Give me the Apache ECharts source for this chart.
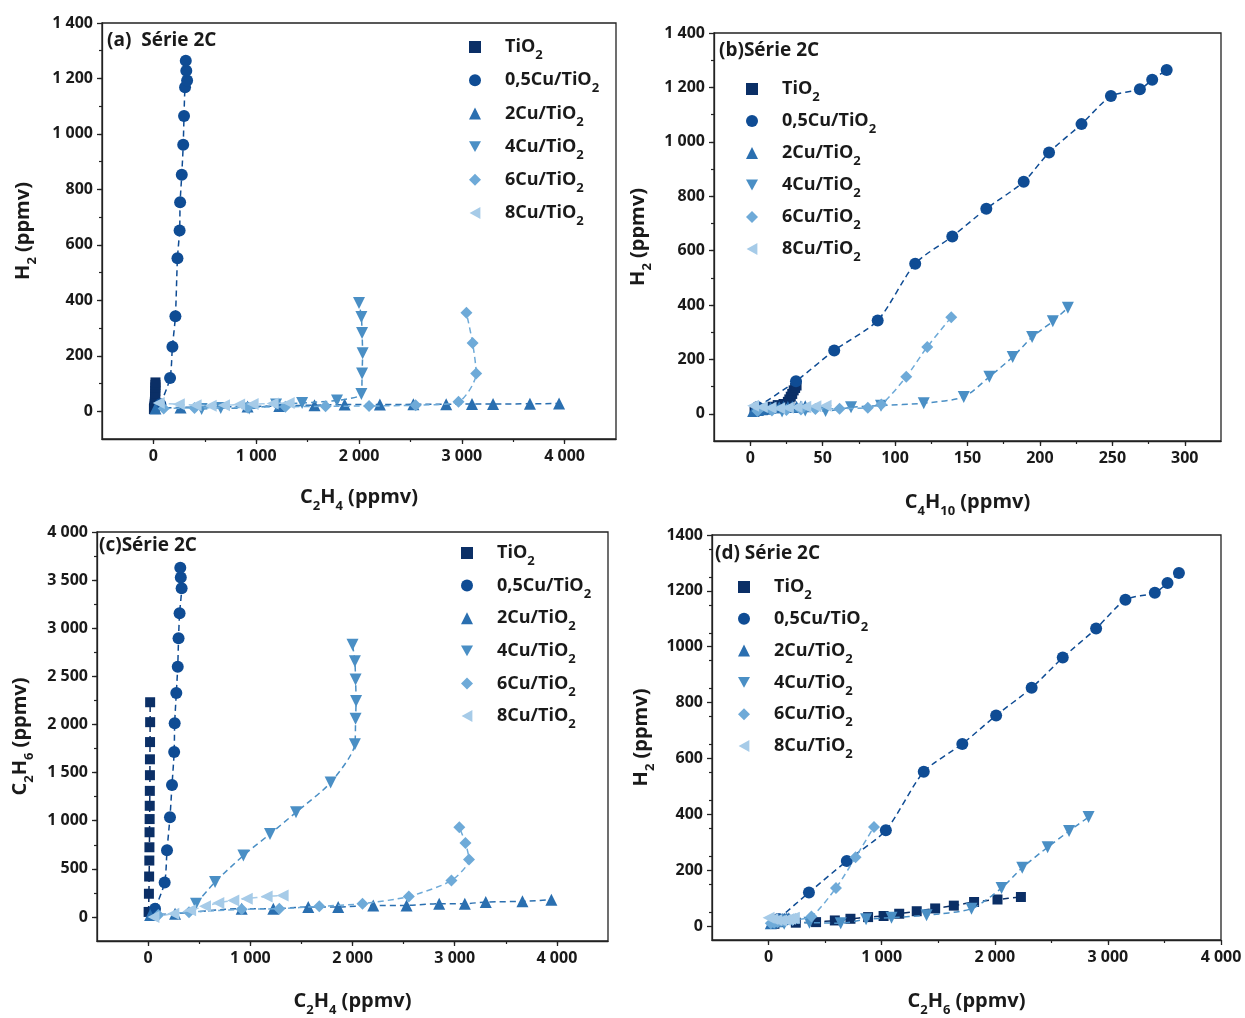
<!DOCTYPE html>
<html><head><meta charset="utf-8">
<script src="https://cdn.jsdelivr.net/npm/echarts@6/dist/echarts.min.js"></script>
<style>html,body{margin:0;padding:0;background:#fff}#c{width:1245px;height:1018px}</style>
</head><body><div id="c"></div>
<script>
const seriesNames = ['TiO2','0,5Cu/TiO2','2Cu/TiO2','4Cu/TiO2','6Cu/TiO2','8Cu/TiO2'];

// TiO2
const h2_TiO2    = [8, 12, 14, 20, 26, 32, 36, 44, 53, 63, 73, 86, 95, 104];
const c2h4_TiO2  = [5, 8, 10, 12, 13, 14, 15, 16, 17, 18, 18, 19, 20, 20];
const c2h6_TiO2  = [52, 241, 420, 586, 724, 880, 1017, 1155, 1310, 1473, 1638, 1817, 2024, 2231];
const c4h10_TiO2 = [3, 6, 9, 12, 15, 19, 23, 26, 27, 28, 29, 30, 31, 32];
// 0,5Cu/TiO2
const h2_05Cu    = [25, 120, 233, 343, 552, 652, 754, 853, 961, 1065, 1168, 1193, 1228, 1264];
const c2h4_05Cu  = [68, 162, 185, 214, 234, 255, 260, 276, 290, 298, 308, 328, 320, 315];
const c2h6_05Cu  = [86, 357, 692, 1037, 1372, 1713, 2012, 2326, 2601, 2896, 3155, 3415, 3527, 3628];
const c4h10_05Cu = [5, 31.6, 58, 88, 113.9, 139.5, 163, 188.8, 206.3, 228.7, 249, 269, 277.5, 287.5];
// 2Cu/TiO2
const h2_2Cu     = [10, 14, 17, 19, 22, 24, 24, 25, 25, 26, 26, 27, 28];
const c2h4_2Cu   = [20, 264, 916, 1225, 1567, 1860, 2203, 2529, 2848, 3099, 3304, 3663, 3946];
const c2h6_2Cu   = [20, 34, 86, 86, 103, 103, 120, 120, 138, 138, 155, 162, 179];
const c4h10_2Cu  = [2, 5, 8, 11, 14, 17, 20, 23, 26, 29, 32, 35, 38];
// 4Cu/TiO2
const h2_4Cu     = [8, 12, 10, 24, 30, 39, 62, 136, 209, 282, 340, 390];
const c2h4_4Cu   = [469, 655, 932, 1193, 1447, 1786, 2023, 2030, 2035, 2030, 2023, 2000];
const c2h6_4Cu   = [138, 362, 638, 862, 1087, 1397, 1794, 2060, 2243, 2467, 2657, 2829];
const c4h10_4Cu  = [22, 38, 52, 69.6, 90.3, 119.8, 147.4, 165.1, 181.2, 194.6, 208.9, 219.3];
// 6Cu/TiO2
const h2_6Cu     = [10, 12, 14, 16, 18, 19, 22, 34, 136, 246, 355];
const c2h4_6Cu   = [100, 400, 916, 1284, 1675, 2098, 2551, 2968, 3140, 3105, 3045];
const c2h6_6Cu   = [20, 50, 79, 86, 110, 138, 213, 379, 596, 769, 932];
const c4h10_6Cu  = [5, 15, 25, 35, 45, 61.7, 81.2, 90.5, 107.7, 122.2, 138.8];
// 8Cu/TiO2
const h2_8Cu     = [30, 25, 22, 20, 22, 24, 26, 28, 30];
const c2h4_8Cu   = [52, 247, 411, 557, 687, 834, 965, 1160, 1316];
const c2h6_8Cu   = [0, 34, 69, 110, 145, 172, 190, 213, 224];
const c4h10_8Cu  = [2, 8, 14, 20, 26, 32, 38, 45, 52];

// tick values
const ticksA_x = [0, 1000, 2000, 3000, 4000];
const ticksA_y = [0, 200, 400, 600, 800, 1000, 1200, 1400];
const ticksB_x = [0, 50, 100, 150, 200, 250, 300];
const ticksB_y = [0, 200, 400, 600, 800, 1000, 1200, 1400];
const ticksC_x = [0, 1000, 2000, 3000, 4000];
const ticksC_y = [0, 500, 1000, 1500, 2000, 2500, 3000, 3500, 4000];
const ticksD_x = [0, 1000, 2000, 3000, 4000];
const ticksD_y = [0, 200, 400, 600, 800, 1000, 1200, 1400];

const H2 = [h2_TiO2, h2_05Cu, h2_2Cu, h2_4Cu, h2_6Cu, h2_8Cu];
const C2H4 = [c2h4_TiO2, c2h4_05Cu, c2h4_2Cu, c2h4_4Cu, c2h4_6Cu, c2h4_8Cu];
const C2H6 = [c2h6_TiO2, c2h6_05Cu, c2h6_2Cu, c2h6_4Cu, c2h6_6Cu, c2h6_8Cu];
const C4H10 = [c4h10_TiO2, c4h10_05Cu, c4h10_2Cu, c4h10_4Cu, c4h10_6Cu, c4h10_8Cu];

const F = '"Open Sans", "Noto Sans", sans-serif';
const TXT = '#1a1a1a';
const colors = ['#0b2f66', '#0f4c94', '#2a6fb0', '#4a8fc5', '#6eaad8', '#a6cbe8'];
const symbols = ['rect', 'circle', 'triangle', 'path://M0,0L10,0L5,9Z', 'diamond', 'path://M9,0L9,10L0,5Z'];
const sizes = [10, 12, 12, 12, 12, 12];

function range(min, max, step) { const r = []; for (let v = min; v <= max + 1e-9; v += step) r.push(+v.toFixed(6)); return r; }
const sp = v => String(v).replace(/\B(?=(\d{3})+(?!\d))/g, ' ');
const plain = v => String(v);

const richN = {
  n: { fontSize: 20, fontWeight: 'bold', fontFamily: F, color: TXT, lineHeight: 26 },
  s: { fontSize: 13, fontWeight: 'bold', fontFamily: F, color: TXT, lineHeight: 26, verticalAlign: 'bottom', padding: [0, 0, -3, 0] }
};

function axisPair(gi, dim, min, max, major, minorStep, fmt, name, nameGap) {
  const pos = dim === 'x' ? 'bottom' : 'left';
  const main = {
    type: 'value', gridIndex: gi, min, max, position: pos,
    axisLine: { show: true, onZero: false, lineStyle: { color: '#222', width: 1.3 } },
    axisTick: { show: true, length: 5, customValues: major, lineStyle: { color: '#222', width: 1.3 } },
    axisLabel: { show: true, customValues: major, formatter: fmt, margin: 9, fontFamily: F, fontWeight: 'bold', fontSize: 16, color: TXT },
    splitLine: { show: false },
    name, nameLocation: 'middle', nameGap,
    nameRotate: dim === 'y' ? 90 : 0,
    nameTextStyle: { rich: richN }
  };
  const minor = {
    type: 'value', gridIndex: gi, min, max, position: pos,
    axisLine: { show: false, onZero: false },
    axisTick: { show: true, length: 3, customValues: range(min, max, minorStep).filter(v => v > min && v < max), lineStyle: { color: '#222', width: 1.2 } },
    axisLabel: { show: false },
    splitLine: { show: false }
  };
  return [main, minor];
}

const grids = [
  { left: 102, top: 23, width: 514, height: 416 },
  { left: 714, top: 33, width: 507, height: 408 },
  { left: 97, top: 532, width: 511, height: 411 },
  { left: 712, top: 535, width: 509, height: 409 }
];

const nm = (a, b) => '{n|' + a + '}{s|' + b + '}';
const xAxes = [].concat(
  axisPair(0, 'x', -500, 4500, ticksA_x, 500, sp, nm('C', '2') + nm('H', '4') + '{n| (ppmv)}', 45),
  axisPair(1, 'x', -25, 325, ticksB_x, 25, plain, nm('C', '4') + nm('H', '10') + '{n| (ppmv)}', 48),
  axisPair(2, 'x', -500, 4500, ticksC_x, 500, sp, nm('C', '2') + nm('H', '4') + '{n| (ppmv)}', 47),
  axisPair(3, 'x', -500, 4000, ticksD_x, 500, sp, nm('C', '2') + nm('H', '6') + '{n| (ppmv)}', 48)
);
const yAxes = [].concat(
  axisPair(0, 'y', -100, 1400, ticksA_y, 100, sp, nm('H', '2') + '{n| (ppmv)}', 66),
  axisPair(1, 'y', -100, 1400, ticksB_y, 100, sp, nm('H', '2') + '{n| (ppmv)}', 63),
  axisPair(2, 'y', -250, 4000, ticksC_y, 250, sp, nm('C', '2') + nm('H', '6') + '{n| (ppmv)}', 64),
  axisPair(3, 'y', -50, 1400, ticksD_y, 100, plain, nm('H', '2') + '{n| (ppmv)}', 58)
);

const panels = [[C2H4, H2], [C4H10, H2], [C2H4, C2H6], [C2H6, H2]];
const series = [];
panels.forEach((p, gi) => {
  const [X, Y] = p;
  seriesNames.forEach((name, k) => {
    series.push({
      type: 'line', name, xAxisIndex: 2 * gi, yAxisIndex: 2 * gi,
      data: X[k].map((x, i) => [x, Y[k][i]]),
      symbol: symbols[k], symbolSize: sizes[k], showSymbol: true,
      smooth: 0.25,
      lineStyle: { type: [6, 4], width: 1.5, color: colors[k] },
      itemStyle: { color: colors[k] },
      z: 2 + k, animation: false
    });
  });
});

const legendFmt = name => '{g|}{n|' + name.slice(0, -1) + '}{s|2}';
const legendRich = {
  g: { width: 19 },
  n: { fontSize: 18, fontWeight: 'bold', fontFamily: F, color: TXT, lineHeight: 24 },
  s: { fontSize: 13, fontWeight: 'bold', fontFamily: F, color: TXT, lineHeight: 24, verticalAlign: 'bottom', padding: [0, 0, -3, 0] }
};
function mkLegend(left, top, gap) {
  return {
    orient: 'vertical', left, top, padding: 0, itemGap: gap, itemWidth: 12, itemHeight: 12,
    selectedMode: false,
    data: seriesNames.map((n, k) => ({ name: n, icon: symbols[k], itemStyle: { color: colors[k] } })),
    formatter: legendFmt,
    textStyle: { rich: legendRich }
  };
}

const tStyle = { fontSize: 19, fontWeight: 'bold', fontFamily: F, color: TXT };
const option = {
  backgroundColor: '#fff',
  animation: false,
  title: [
    { text: '(a)  Série 2C', left: 107, top: 31, padding: 0, textStyle: tStyle },
    { text: '(b)Série 2C', left: 719, top: 41, padding: 0, textStyle: tStyle },
    { text: '(c)Série 2C', left: 99, top: 536, padding: 0, textStyle: tStyle },
    { text: '(d) Série 2C', left: 715, top: 544, padding: 0, textStyle: tStyle }
  ],
  grid: grids.map(g => Object.assign({ show: true, borderColor: '#222', borderWidth: 1.3, backgroundColor: 'transparent' }, g)),
  legend: [mkLegend(469, 38, 9.2), mkLegend(746, 80, 8), mkLegend(461, 544, 8.6), mkLegend(738, 578, 7.8)],
  xAxis: xAxes,
  yAxis: yAxes,
  series
};
const chart = echarts.init(document.getElementById('c'), null, { renderer: 'canvas' });
chart.setOption(option);
</script>
</body></html>
